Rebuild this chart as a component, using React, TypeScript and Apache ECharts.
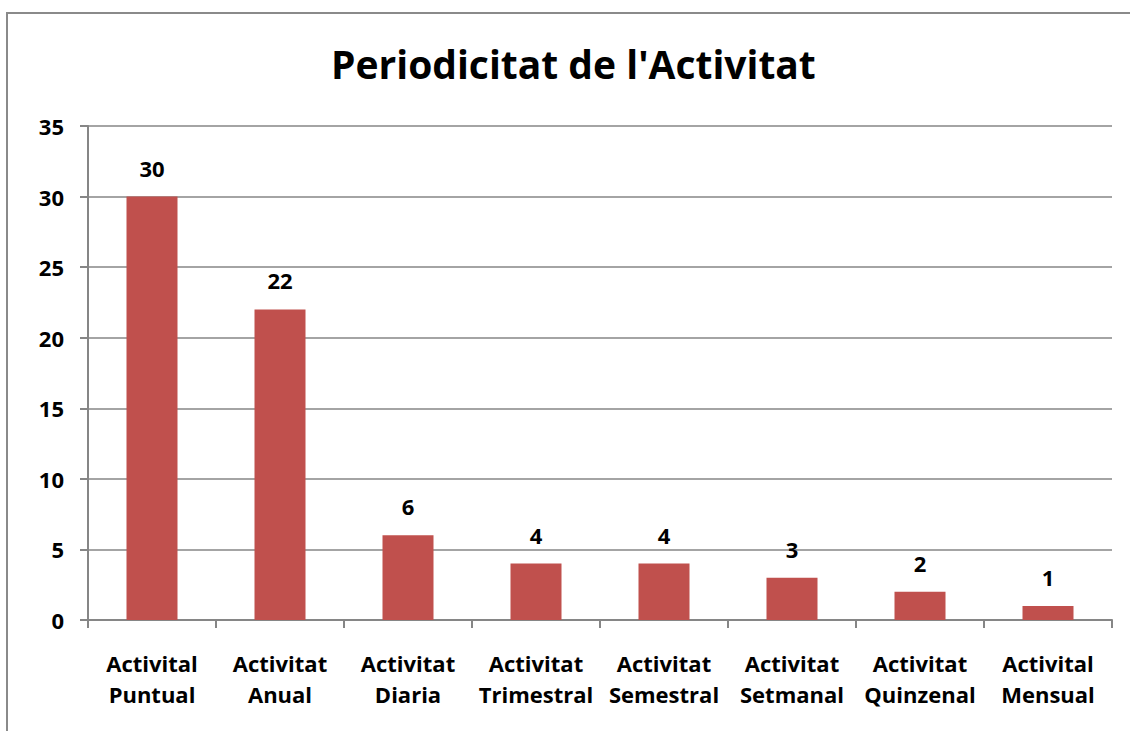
import React, { useEffect, useRef } from "react";
import * as echarts from "echarts";

const categories = [
  "Activital\nPuntual",
  "Activitat\nAnual",
  "Activitat\nDiaria",
  "Activitat\nTrimestral",
  "Activitat\nSemestral",
  "Activitat\nSetmanal",
  "Activitat\nQuinzenal",
  "Activital\nMensual",
];
const values = [30, 22, 6, 4, 4, 3, 2, 1];
const titleText = "Periodicitat de l'Activitat";

const FONT = "'Open Sans', 'Liberation Sans', sans-serif";

export default function App() {
  const ref = useRef<HTMLDivElement>(null);
  useEffect(() => {
    if (!ref.current) return;
    const chart = echarts.init(ref.current, undefined, { renderer: "svg" });
    chart.setOption({
      animation: false,
      backgroundColor: "#ffffff",
      graphic: [
        {
          type: "rect",
          shape: { x: 7, y: 13, width: 1300, height: 900 },
          style: { fill: "none", stroke: "#8a8a8a", lineWidth: 2 },
          silent: true,
          z: -1,
        },
      ],
      title: {
        text: titleText,
        left: 326,
        top: 39,
        textStyle: { fontFamily: FONT, fontSize: 39, fontWeight: "bold", color: "#000" },
      },
      grid: { left: 88, right: 18, top: 126, bottom: 111, containLabel: false },
      xAxis: {
        type: "category",
        data: categories,
        axisLine: { lineStyle: { color: "#868686", width: 2 } },
        axisTick: { show: true, length: 8, alignWithLabel: false, lineStyle: { color: "#868686", width: 2 } },
        axisLabel: {
          interval: 0,
          margin: 27,
          fontFamily: FONT,
          fontSize: 22,
          fontWeight: "bold",
          color: "#000",
          lineHeight: 31,
        },
      },
      yAxis: {
        type: "value",
        min: 0,
        max: 35,
        interval: 5,
        axisLine: { show: true, lineStyle: { color: "#868686", width: 2 } },
        axisTick: { show: true, length: 8, lineStyle: { color: "#868686", width: 2 } },
        splitLine: { show: true, lineStyle: { color: "#868686", width: 1.5 } },
        axisLabel: {
          margin: 24,
          fontFamily: FONT,
          fontSize: 22,
          fontWeight: "bold",
          color: "#000",
        },
      },
      series: [
        {
          type: "bar",
          data: values,
          barWidth: 51,
          itemStyle: { color: "#C0504D" },
          label: {
            show: true,
            position: "top",
            distance: 18,
            fontFamily: FONT,
            fontSize: 22,
            fontWeight: "bold",
            color: "#000",
          },
        },
      ],
    });
    return () => chart.dispose();
  }, []);
  return (
    <div
      ref={ref}
      style={{ position: "fixed", left: 0, top: 0, width: 1130, height: 731 }}
    />
  );
}
